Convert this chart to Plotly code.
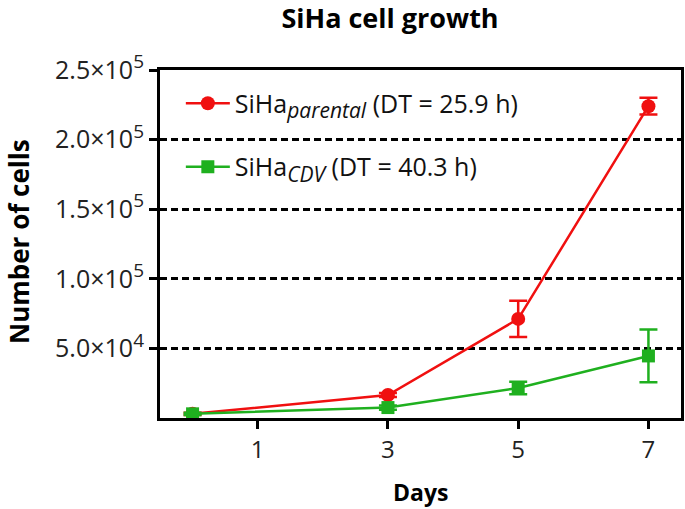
import plotly.graph_objects as go

days = [0, 3, 5, 7]
parental = [3000, 16500, 71200, 224000]
parental_err = [800, 1500, 13000, 6000]
cdv = [3000, 7500, 21600, 44600]
cdv_err = [800, 1500, 4500, 19000]

ytick_vals = [50000, 100000, 150000, 200000, 250000]
ytick_text = ["5.0×10<sup><span style='font-size:19px'>4</span></sup>",
              "1.0×10<sup><span style='font-size:19px'>5</span></sup>",
              "1.5×10<sup><span style='font-size:19px'>5</span></sup>",
              "2.0×10<sup><span style='font-size:19px'>5</span></sup>",
              "2.5×10<sup><span style='font-size:19px'>5</span></sup>"]
xtick_vals = [1, 3, 5, 7]

RED = "#f01010"
GREEN = "#1fb01f"
FONT = "Open Sans"

W, H = 685, 509
L, R, T, B = 160, 4, 70, 91
PW = W - L - R
PH = H - T - B

fig = go.Figure()
fig.add_trace(go.Scatter(
    x=days, y=parental, mode="lines+markers",
    name="SiHa<sub><span style='font-size:21px'><i>parental</i></span></sub> (DT = 25.9 h)",
    legendgroup="a",
    line=dict(color=RED, width=2.5),
    marker=dict(symbol="circle", size=14, color=RED),
    error_y=dict(type="data", array=parental_err, visible=True, color=RED, thickness=2.5, width=9),
))
fig.add_trace(go.Scatter(
    x=days, y=cdv, mode="lines+markers",
    name="SiHa<sub><span style='font-size:21px'><i>CDV</i></span></sub> (DT = 40.3 h)",
    legendgroup="b",
    line=dict(color=GREEN, width=2.5),
    marker=dict(symbol="square", size=13, color=GREEN),
    error_y=dict(type="data", array=cdv_err, visible=True, color=GREEN, thickness=2.5, width=9),
))

fig.update_layout(
    width=W, height=H,
    margin=dict(l=L, r=R, t=T, b=B),
    paper_bgcolor="white", plot_bgcolor="white",
    font=dict(family=FONT, color="#111111"),
    title=dict(text="<b>SiHa cell growth</b>", x=390/W, xref="container", xanchor="center",
               y=1 - 19/H, yref="container", yanchor="middle",
               font=dict(size=27, color="black", family=FONT)),
    legend=dict(x=0.04, y=0.97, xanchor="left", yanchor="top", itemwidth=44,
                bgcolor="rgba(0,0,0,0)", font=dict(size=25, color="#111111", family=FONT),
                traceorder="grouped", tracegroupgap=28),
    showlegend=True,
    annotations=[
        dict(text="<b>Number of cells</b>", xref="paper", yref="paper",
             x=(19 - L) / PW, y=(418 - 242) / PH, xanchor="center", yanchor="middle",
             textangle=-90, showarrow=False, font=dict(size=26, color="black", family=FONT)),
        dict(text="<b>Days</b>", xref="paper", yref="paper",
             x=(420 - L) / PW, y=-(492 - (T + PH)) / PH, xanchor="center", yanchor="middle",
             showarrow=False, font=dict(size=23, color="black", family=FONT)),
    ],
)
fig.update_xaxes(
    range=[-0.5, 7.5], tickvals=xtick_vals, showgrid=False, zeroline=False, automargin=False,
    showline=True, linecolor="black", linewidth=3, mirror=True,
    ticks="outside", ticklen=8, tickwidth=3, tickcolor="black",
    tickfont=dict(size=24, color="#222222"),
)
fig.update_yaxes(
    range=[0, 250000], tickvals=ytick_vals, ticktext=ytick_text, automargin=False,
    showgrid=True, gridcolor="black", gridwidth=2.5, griddash="7px,4px",
    zeroline=False,
    showline=True, linecolor="black", linewidth=3, mirror=True,
    ticks="outside", ticklen=8, tickwidth=3, tickcolor="black",
    tickfont=dict(size=25, color="#222222"),
)

fig.write_html("out.html", config={"displayModeBar": False},
               post_script="document.body.style.margin='0px';")
